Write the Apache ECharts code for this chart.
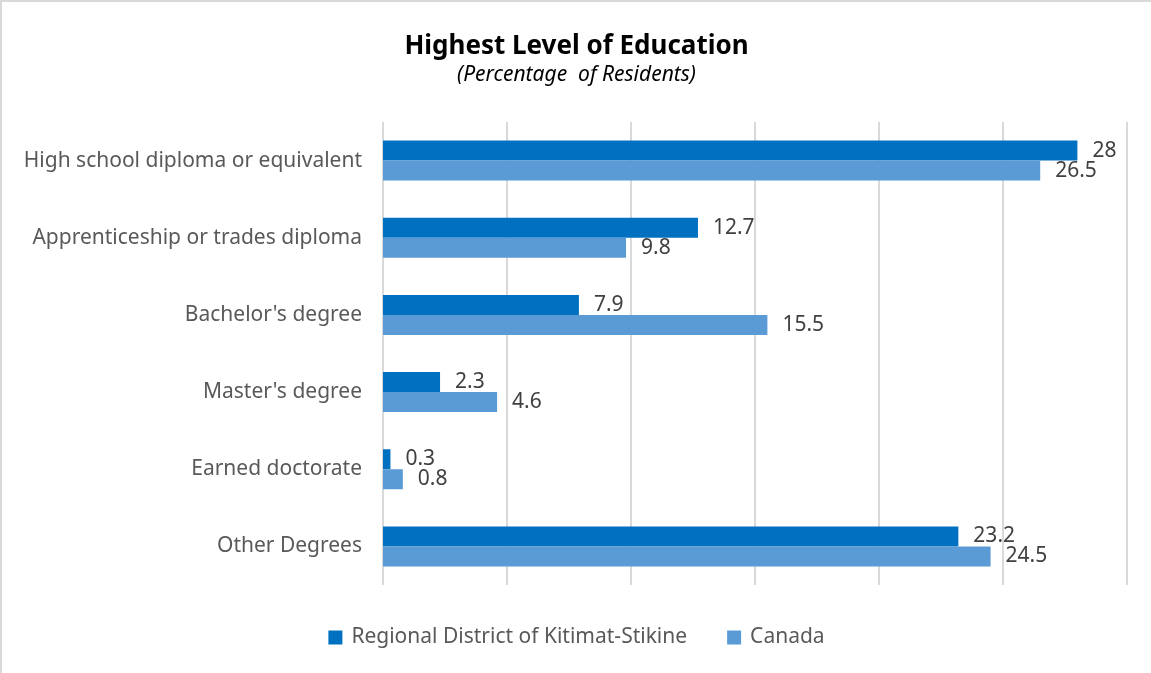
<!DOCTYPE html>
<html>
<head>
<meta charset="utf-8">
<script src="https://cdn.jsdelivr.net/npm/echarts@6/dist/echarts.min.js"></script>
<style>
  html, body { margin: 0; padding: 0; background: #ffffff; }
  #chart { width: 1151px; height: 673px; box-sizing: border-box;
           border-top: 2px solid #d9d9d9; border-left: 2px solid #d9d9d9; }
</style>
</head>
<body>
<div id="chart"></div>
<script>
// Education attainment shares (%)
const categories = [
  'High school diploma or equivalent',
  'Apprenticeship or trades diploma',
  "Bachelor's degree",
  "Master's degree",
  'Earned doctorate',
  'Other Degrees'
];
const kitimatStikine = [28, 12.7, 7.9, 2.3, 0.3, 23.2];
const canada = [26.5, 9.8, 15.5, 4.6, 0.8, 24.5];
const seriesNames = ['Regional District of Kitimat-Stikine', 'Canada'];

const FONT = '"Noto Sans", "Open Sans", sans-serif';
const chart = echarts.init(document.getElementById('chart'), null, { renderer: 'canvas' });

const labelStyle = {
  show: true,
  position: 'right',
  distance: 15,
  color: '#404040',
  fontSize: 21,
  fontFamily: FONT
};

chart.setOption({
  animation: false,
  title: {
    text: 'Highest Level of Education',
    subtext: '(Percentage  of Residents)',
    left: 'center',
    top: 27,
    itemGap: 5,
    textStyle: { fontFamily: FONT, fontSize: 26, fontWeight: 'bold', color: '#000000' },
    subtextStyle: { fontFamily: FONT, fontSize: 21, fontStyle: 'italic', color: '#000000' }
  },
  legend: {
    bottom: 20,
    left: 'center',
    itemWidth: 14,
    itemHeight: 14,
    itemGap: 40,
    icon: 'rect',
    textStyle: { fontFamily: FONT, fontSize: 21, color: '#595959', padding: [0, 0, 0, 4] },
    data: seriesNames
  },
  grid: { left: 381, right: 24, top: 120, bottom: 88, containLabel: false },
  xAxis: {
    type: 'value',
    min: 0,
    max: 30,
    interval: 5,
    axisLine: { show: false },
    axisTick: { show: false },
    axisLabel: { show: false },
    splitLine: { show: true, lineStyle: { color: '#d9d9d9', width: 2 } }
  },
  yAxis: {
    type: 'category',
    inverse: true,
    data: categories,
    axisLine: { show: false },
    axisTick: { show: false },
    axisLabel: { fontFamily: FONT, fontSize: 21, color: '#595959', margin: 21 }
  },
  series: [
    {
      name: seriesNames[0],
      type: 'bar',
      data: kitimatStikine,
      barWidth: 20,
      barGap: '0%',
      itemStyle: { color: '#0070C0' },
      label: labelStyle
    },
    {
      name: seriesNames[1],
      type: 'bar',
      data: canada,
      barWidth: 20,
      barGap: '0%',
      itemStyle: { color: '#5B9BD5' },
      label: labelStyle
    }
  ]
});
</script>
</body>
</html>
